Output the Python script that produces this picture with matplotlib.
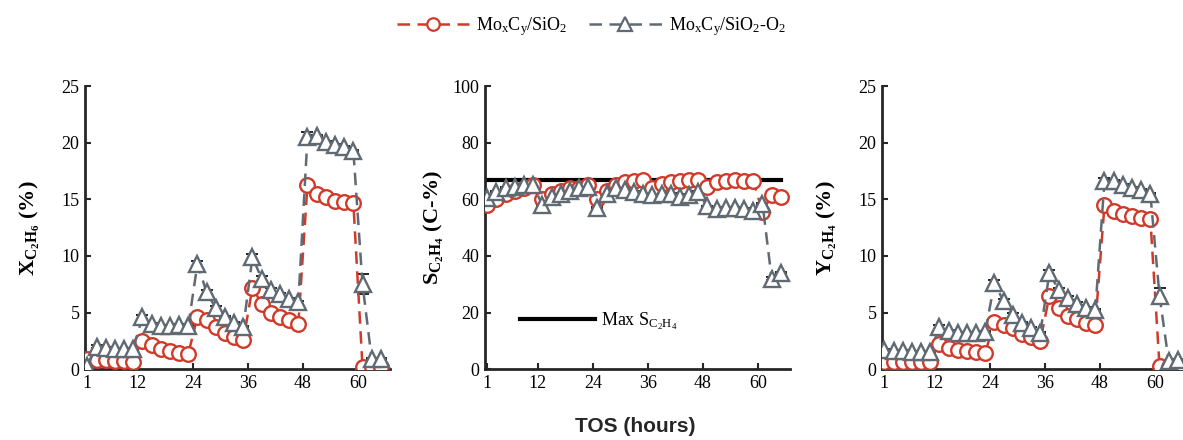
import numpy as np
import matplotlib.pyplot as plt
from matplotlib.lines import Line2D

plt.rcParams['font.family'] = 'Liberation Serif'
plt.rcParams['mathtext.fontset'] = 'custom'
plt.rcParams['mathtext.rm'] = 'Liberation Serif'
plt.rcParams['mathtext.it'] = 'Liberation Serif:italic'
plt.rcParams['mathtext.bf'] = 'Liberation Serif:bold'

# time on stream (h), 6 points per 12 h step, last step 3 points
tos = [1, 3, 5, 7, 9, 11, 13, 15, 17, 19, 21, 23, 25, 27, 29, 31, 33, 35,
       37, 39, 41, 43, 45, 47, 49, 51, 53, 55, 57, 59, 61, 63, 65]

# ethane conversion (%)
x_sio2 = [0.9, 0.8, 0.8, 0.75, 0.7, 0.65, 2.5, 2.1, 1.8, 1.6, 1.4, 1.35,
          4.6, 4.3, 3.75, 3.2, 2.85, 2.55, 7.2, 5.8, 5.0, 4.6, 4.3, 4.0,
          16.3, 15.5, 15.2, 14.9, 14.8, 14.7, 0.2, 0.2, 0.2]
x_sio2_o2 = [0.3, 2.0, 1.9, 1.8, 1.8, 1.8, 4.6, 4.0, 3.8, 3.8, 3.9, 3.8,
             9.3, 6.8, 5.4, 4.6, 4.1, 3.7, 9.9, 8.0, 7.0, 6.6, 6.2, 5.9,
             20.5, 20.6, 20.1, 19.8, 19.6, 19.3, 7.5, 0.9, 0.9]
x_err = [0.1, 0.1, 0.1, 0.1, 0.1, 0.1, 0.2, 0.1, 0.1, 0.1, 0.1, 0.1,
         0.3, 0.2, 0.2, 0.1, 0.1, 0.1, 0.3, 0.2, 0.2, 0.1, 0.1, 0.1,
         0.5, 0.1, 0.1, 0.1, 0.1, 0.1, 0.9, 0.1, 0.1]

# ethylene selectivity (C-%)
s_sio2 = [58, 60, 62, 63, 64, 65, 60, 62, 63, 64, 64, 65,
          60, 63, 65, 66, 66.5, 67, 64, 65.5, 66, 66.5, 67, 67,
          64.5, 66, 66.5, 67, 66.5, 66.5, 55.5, 61.5, 61]
s_sio2_o2 = [60.5, 62.5, 64, 64.5, 65, 65, 58, 61, 62, 63, 64, 64.5,
             57, 62, 64, 63.5, 62.5, 62, 61.5, 62, 62, 61, 61.5, 62.5,
             57.5, 56.5, 57, 57, 56.5, 56, 58.5, 32, 34]
s_err = [0.3, 0.3, 0.3, 0.3, 0.3, 0.3, 0.3, 0.3, 0.3, 0.3, 0.3, 0.3,
         0.3, 0.3, 0.3, 0.3, 0.3, 0.3, 0.3, 0.3, 0.3, 0.3, 0.3, 0.3,
         0.3, 0.3, 0.3, 0.3, 0.3, 0.3, 0.3, 0.5, 0.5]
s_max = 66.9

# ethylene yield (%)
y_sio2 = [0.6, 0.6, 0.6, 0.6, 0.6, 0.6, 2.2, 1.9, 1.7, 1.6, 1.5, 1.45,
          4.2, 3.9, 3.6, 3.1, 2.8, 2.5, 6.5, 5.4, 4.7, 4.4, 4.1, 3.9,
          14.5, 14.0, 13.7, 13.5, 13.4, 13.3, 0.3, 0.2, 0.2]
y_sio2_o2 = [1.7, 1.6, 1.6, 1.5, 1.5, 1.5, 3.7, 3.4, 3.2, 3.2, 3.2, 3.3,
             7.6, 6.0, 4.8, 4.1, 3.6, 3.2, 8.5, 7.0, 6.3, 5.8, 5.4, 5.2,
             16.6, 16.6, 16.3, 16.0, 15.8, 15.5, 6.5, 0.7, 0.8]
y_err = [0.1, 0.1, 0.1, 0.1, 0.1, 0.1, 0.2, 0.1, 0.1, 0.1, 0.1, 0.1,
         0.3, 0.2, 0.2, 0.1, 0.1, 0.1, 0.3, 0.2, 0.2, 0.1, 0.1, 0.1,
         0.3, 0.1, 0.1, 0.1, 0.1, 0.1, 0.7, 0.1, 0.1]

xticks = [1, 12, 24, 36, 48, 60]

red = '#d03a2a'
gray = '#5f6a72'
axis_col = '#262626'

lab1 = r'Mo$_\mathregular{x}$C$_\mathregular{y}$/SiO$_\mathregular{2}$'
lab2 = r'Mo$_\mathregular{x}$C$_\mathregular{y}$/SiO$_\mathregular{2}$-O$_\mathregular{2}$'

fig = plt.figure(figsize=(11.83, 4.4), dpi=100)
lefts = [0.0719, 0.41, 0.7456]
axes = [fig.add_axes([l, 0.161, 0.2578, 0.643]) for l in lefts]

panels = [
    (x_sio2, x_sio2_o2, x_err, 25, 5, 14,
     r'$\mathbf{X}_{\mathbf{C}_{\mathbf{2}}\mathbf{H}_{\mathbf{6}}}$ (%)'),
    (s_sio2, s_sio2_o2, s_err, 100, 20, 5,
     r'$\mathbf{S}_{\mathbf{C}_{\mathbf{2}}\mathbf{H}_{\mathbf{4}}}$ (C-%)'),
    (y_sio2, y_sio2_o2, y_err, 25, 5, 14,
     r'$\mathbf{Y}_{\mathbf{C}_{\mathbf{2}}\mathbf{H}_{\mathbf{4}}}$ (%)'),
]

for i, (ax, (a, b, err, ymax, ystep, pad, ylab)) in enumerate(zip(axes, panels)):
    ax.plot(tos, a, linestyle=(0, (5, 3)), lw=1.8, color=red, marker='o',
            ms=10.5, mfc='white', mec=red, mew=1.7, zorder=3)
    ax.errorbar(tos, b, yerr=err, fmt='none', ecolor='black', elinewidth=1,
                capsize=4, capthick=1.2, zorder=2)
    ax.plot(tos, b, linestyle=(0, (5, 3)), lw=1.8, color=gray, marker='^',
            ms=11, mfc='white', mec=gray, mew=1.7, zorder=4)
    ax.set_xlim(0.5, 67)
    ax.set_ylim(0, ymax)
    ax.set_xticks(xticks)
    ax.set_yticks(np.arange(0, ymax + 1, ystep))
    ax.spines['top'].set_visible(False)
    ax.spines['right'].set_visible(False)
    for s in ['left', 'bottom']:
        ax.spines[s].set_linewidth(2)
        ax.spines[s].set_color(axis_col)
    ax.tick_params(direction='in', length=4, width=1.5, color=axis_col,
                   labelsize=13, pad=4)
    ax.set_ylabel(ylab, fontsize=16, fontweight='bold', labelpad=pad)
    ax.patch.set_alpha(0)

    if i == 1:
        mx, = axes[1].plot([1, 65], [s_max, s_max], color='black', lw=3,
                           zorder=1)
        ax.legend([mx], [r'Max S$_{\mathrm{C}_{\mathrm{2}}\mathrm{H}_{\mathrm{4}}}$'],
                  loc='center left', bbox_to_anchor=(0.06, 0.17),
                  frameon=False, handlelength=4.2, fontsize=13,
                  handletextpad=0.3)

handles = [
    Line2D([], [], linestyle=(0, (5, 3)), lw=1.8, color=red, marker='o',
           ms=9, mfc='white', mec=red, mew=1.6),
    Line2D([], [], linestyle=(0, (5, 3)), lw=1.8, color=gray, marker='^',
           ms=10, mfc='white', mec=gray, mew=1.6),
]
fig.legend(handles, [lab1, lab2], loc='center', bbox_to_anchor=(0.5, 0.939),
           ncol=2, frameon=False, fontsize=13, handlelength=4,
           columnspacing=1.2, handletextpad=0.4)

fig.text(0.537, 0.03, 'TOS (hours)', ha='center', va='center',
         fontsize=15, fontweight='bold', family='Liberation Sans',
         color=axis_col)

fig.savefig('out.png', dpi=100)
